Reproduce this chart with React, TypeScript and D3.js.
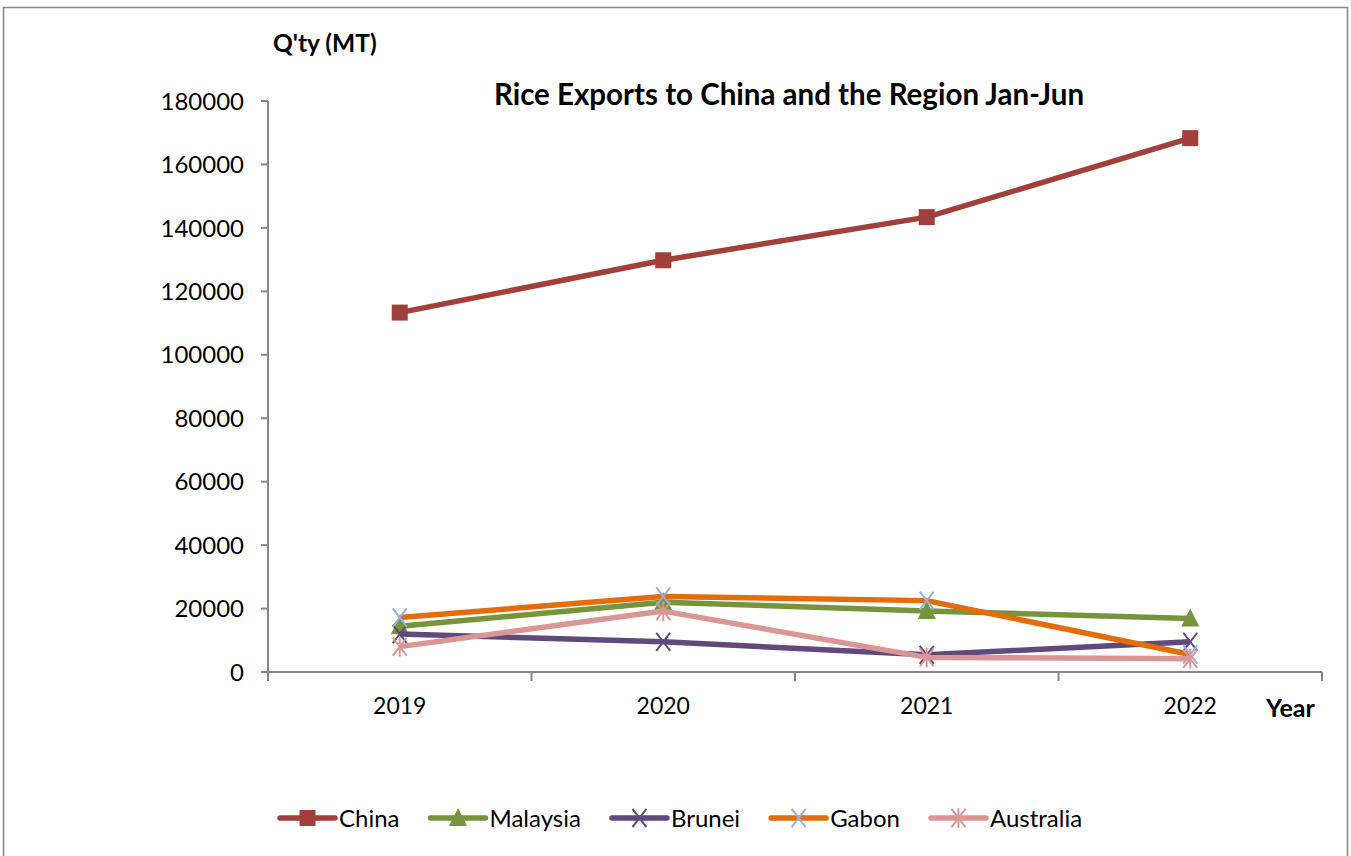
import { useEffect, useRef } from "react";
import * as d3 from "d3";

const years = ["2019", "2020", "2021", "2022"];
const yTicks = [0, 20000, 40000, 60000, 80000, 100000, 120000, 140000, 160000, 180000];

const seriesNames = ["China", "Malaysia", "Brunei", "Gabon", "Australia"];
const china = [113300, 129800, 143400, 168300];
const malaysia = [14400, 22000, 19200, 16900];
const brunei = [12000, 9500, 5400, 9500];
const gabon = [17200, 23800, 22500, 5500];
const australia = [8000, 19200, 4600, 4200];

const lineColors = ["#A33F3B", "#77933C", "#604A7B", "#E46C0A", "#D99694"];
const markerColors = ["#A33F3B", "#77933C", "#604A7B", "#95B3D7", "#D99694"];
const markerKinds = ["square", "triangle", "x", "x", "star"];

const FONT = "Lato, 'Open Sans', sans-serif";

function drawMarker(g: any, kind: string, color: string, x: number, y: number) {
  if (kind === "square") {
    g.append("rect")
      .attr("x", x - 8)
      .attr("y", y - 8)
      .attr("width", 16)
      .attr("height", 16)
      .attr("fill", color);
  } else if (kind === "triangle") {
    g.append("path")
      .attr("d", `M${x},${y - 10}L${x + 9},${y + 8}L${x - 9},${y + 8}Z`)
      .attr("fill", color);
  } else {
    const s = 7;
    let d = `M${x - s},${y - s * 1.3}L${x + s},${y + s * 1.3}M${x + s},${y - s * 1.3}L${x - s},${y + s * 1.3}`;
    if (kind === "star") d += `M${x},${y - s * 1.4}L${x},${y + s * 1.4}`;
    g.append("path")
      .attr("d", d)
      .attr("stroke", color)
      .attr("stroke-width", 2)
      .attr("fill", "none");
  }
}

export default function App() {
  const ref = useRef<SVGSVGElement>(null);

  useEffect(() => {
    if (!ref.current) return;
    const svg = d3.select(ref.current);
    svg.selectAll("*").remove();

    const values = [china, malaysia, brunei, gabon, australia];
    const left = 268;
    const right = 1322;
    const top = 101;
    const bottom = 672;

    // outer frame
    svg.append("rect")
      .attr("x", 3.5)
      .attr("y", 7.5)
      .attr("width", 1344)
      .attr("height", 860)
      .attr("fill", "white")
      .attr("stroke", "#868686")
      .attr("stroke-width", 1.5);

    const x = d3.scaleBand().domain(years).range([left, right]);
    const y = d3.scaleLinear().domain([0, 180000]).range([bottom, top]);

    // y axis
    const yAxis = svg.append("g").attr("transform", `translate(${left},0)`);
    yAxis.append("line")
      .attr("x1", 0).attr("x2", 0)
      .attr("y1", top).attr("y2", bottom)
      .attr("stroke", "#868686").attr("stroke-width", 2);
    yTicks.forEach((t) => {
      yAxis.append("line")
        .attr("x1", -7).attr("x2", 0)
        .attr("y1", y(t)).attr("y2", y(t))
        .attr("stroke", "#868686").attr("stroke-width", 2);
      yAxis.append("text")
        .attr("x", -24)
        .attr("y", y(t))
        .attr("dy", "0.36em")
        .attr("text-anchor", "end")
        .style("font-family", FONT)
        .style("font-size", "24px")
        .attr("fill", "#000")
        .text(t);
    });

    // x axis
    svg.append("line")
      .attr("x1", left).attr("x2", right)
      .attr("y1", bottom).attr("y2", bottom)
      .attr("stroke", "#868686").attr("stroke-width", 2);
    const bounds = years.map((d) => x(d)!).concat([right]);
    bounds.forEach((b) => {
      svg.append("line")
        .attr("x1", b).attr("x2", b)
        .attr("y1", bottom).attr("y2", bottom + 9)
        .attr("stroke", "#868686").attr("stroke-width", 2);
    });
    years.forEach((yr) => {
      svg.append("text")
        .attr("x", x(yr)! + x.bandwidth() / 2)
        .attr("y", 714)
        .attr("text-anchor", "middle")
        .style("font-family", FONT)
        .style("font-size", "23px")
        .text(yr);
    });

    // titles
    svg.append("text")
      .attr("x", 789).attr("y", 105)
      .attr("text-anchor", "middle")
      .style("font-family", FONT)
      .style("font-weight", "bold")
      .style("font-size", "29.5px")
      .text("Rice Exports to China and the Region Jan-Jun");
    svg.append("text")
      .attr("x", 273).attr("y", 52)
      .style("font-family", FONT)
      .style("font-weight", "bold")
      .style("font-size", "24.5px")
      .text("Q'ty (MT)");
    svg.append("text")
      .attr("x", 1266).attr("y", 717)
      .style("font-family", FONT)
      .style("font-weight", "bold")
      .style("font-size", "25px")
      .text("Year");

    // series
    const line = d3.line<number>()
      .x((_, i) => x(years[i])! + x.bandwidth() / 2)
      .y((d) => y(d));
    values.forEach((vals, si) => {
      const g = svg.append("g");
      g.append("path")
        .attr("d", line(vals))
        .attr("fill", "none")
        .attr("stroke", lineColors[si])
        .attr("stroke-width", 5.5)
        .attr("stroke-linejoin", "round");
      vals.forEach((v, i) => {
        drawMarker(g, markerKinds[si], markerColors[si], x(years[i])! + x.bandwidth() / 2, y(v));
      });
    });

    // legend
    const legend = svg.append("g");
    let lx = 280;
    const ly = 818;
    seriesNames.forEach((name, si) => {
      const item = legend.append("g");
      item.append("line")
        .attr("x1", lx).attr("x2", lx + 55)
        .attr("y1", ly).attr("y2", ly)
        .attr("stroke", lineColors[si])
        .attr("stroke-width", 5.5)
        .attr("stroke-linecap", "round");
      drawMarker(item, markerKinds[si], markerColors[si], lx + 27.5, ly);
      const txt = item.append("text")
        .attr("x", lx + 59)
        .attr("y", ly)
        .attr("dy", "0.36em")
        .style("font-family", FONT)
        .style("font-size", "24px")
        .text(name);
      const w = (txt.node() as SVGTextElement).getComputedTextLength();
      lx = lx + 59 + w + 31;
    });
  }, []);

  return (
    <svg
      ref={ref}
      width={1351}
      height={856}
      style={{ position: "absolute", left: 0, top: 0, background: "white" }}
    />
  );
}
